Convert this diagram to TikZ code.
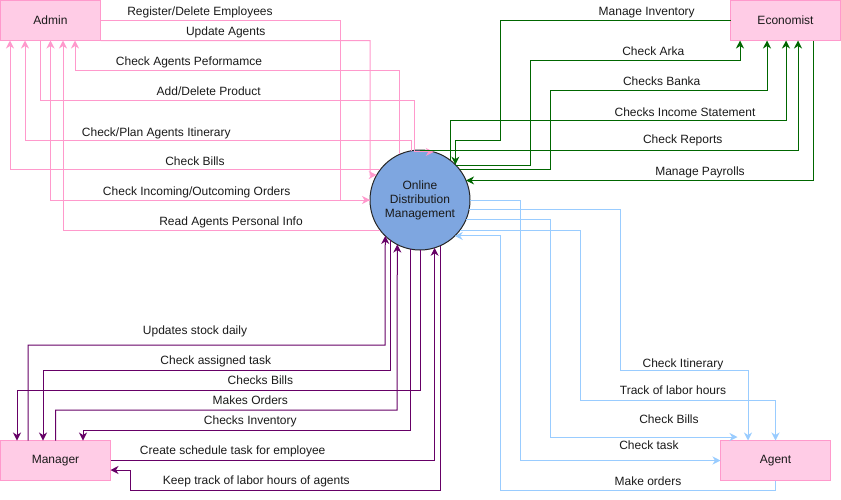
\documentclass[tikz,border=0pt]{standalone}
\usepackage{fontspec}
\setmainfont{Liberation Sans}
\usetikzlibrary{arrows.meta}

\definecolor{pinkline}{HTML}{FF99CC}
\definecolor{pinkfill}{HTML}{FFCCE6}
\definecolor{procfill}{HTML}{7EA6E0}
\definecolor{greenline}{HTML}{006600}
\definecolor{blueline}{HTML}{99CCFF}
\definecolor{purpleline}{HTML}{660066}
\definecolor{txt}{HTML}{1A1A1A}

\begin{document}
\begin{tikzpicture}[x=1pt,y=-1pt,
  every node/.style={font=\fontsize{12}{14}\selectfont, text=txt},
  entity/.style={draw=pinkline, fill=pinkfill, line width=1pt,
    minimum height=40pt, inner sep=0pt, outer sep=0pt},
  process/.style={circle, draw=black!85, fill=procfill, line width=1pt,
    minimum size=100pt, inner sep=0pt, outer sep=0pt, align=center},
  flow/.style={line width=1pt, -{Stealth[length=8pt,width=8pt,inset=2.5pt]}},
  pk/.style={flow, draw=pinkline},
  gn/.style={flow, draw=greenline},
  bl/.style={flow, draw=blueline},
  pp/.style={flow, draw=purpleline},
  lbl/.style={anchor=base, inner sep=0pt}
]
\useasboundingbox (0,0) rectangle (841,499);

% external entities and the central process
\node[entity, minimum width=100pt] (admin)   at (50.5,20.5)   {Admin};
\node[entity, minimum width=110pt] (econ)    at (785.5,20.5)  {Economist};
\node[entity, minimum width=110pt] (manager) at (55.5,460.5)  {Manager};
\node[entity, minimum width=110pt] (agent)   at (775.5,460.5) {Agent};
\node[process] (odm) at (420,200) {Online\\Distribution\\Management};

% Admin flows
\draw[pk] (admin.east) -| (340,200) -- (odm.west);
\draw[pk] (admin.south east) -| (370,175) -- (odm.150);
\draw[pk] (odm.114) |- (75,70) -- (admin.south -| 75,0);
\draw[pk] (admin.south -| 40,0) |- (414,100) |- (odm.74);
\draw[pk] (odm.100) |- (25,140) -- (admin.south -| 25,0);
\draw[pk] (odm.143) -| (admin.south -| 10,0);
\draw[pk] (odm.west) -| (admin.south);
\draw[pk] (odm.217) -| (admin.south -| 63,0);

\node[lbl] (a1) at (200,15)    {Register/Delete Employees};
\node[lbl] (a2) at (225.7,35)  {Update Agents};
\node[lbl] (a3) at (189,65)    {Check Agents Peformamce};
\node[lbl] (a4) at (208.7,95)  {Add/Delete Product};
\node[lbl] (a5) at (156.3,136) {Check/Plan Agents Itinerary};
\node[lbl] (a6) at (195,165)   {Check Bills};
\node[lbl] (a7) at (196.7,195) {Check Incoming/Outcoming Orders};
\node[lbl] (a8) at (231,225)   {Read Agents Personal Info};

% Economist flows
\draw[gn] (econ.west) -| (500,140) -| (odm.45);
\draw[gn] (odm.44) -| (530,60) -| (econ.south -| 740,0);
\draw[gn] (odm.37) -| (550,90) -| (econ.south -| 767,0);
\draw[gn] (odm.53) |- (786,120) -- (econ.south -| 786,0);
\draw[gn] (odm.north) -| (econ.south -| 798,0);
\draw[gn] (econ.south -| 813,0) |- (odm.23.6);

\node[lbl] (e1) at (646.7,15)  {Manage Inventory};
\node[lbl] (e2) at (653.3,55)  {Check Arka};
\node[lbl] (e3) at (661.7,85)  {Checks Banka};
\node[lbl] (e4) at (685,116)   {Checks Income Statement};
\node[lbl] (e5) at (682.7,143.6) {Check Reports};
\node[lbl] (e6) at (700,175)   {Manage Payrolls};

% Agent flows
\draw[bl] (odm.-11.5) -| (620,370) -| (agent.north -| 748,0);
\draw[bl] (odm.-37) -| (580,400) -| (agent.north);
\draw[bl] (odm.-23.6) -| (550,437) -- ([shift={(17,-3.5)}]agent.north west);
\draw[bl] (odm.east) -| (520,460.5) -- (agent.west);
\draw[bl] (agent.south) |- (500,490) |- (odm.-46);

\node[lbl] (g1) at (683,367)   {Check Itinerary};
\node[lbl] (g2) at (673,394.3) {Track of labor hours};
\node[lbl] (g3) at (669,423)   {Check Bills};
\node[lbl] (g4) at (649,449)   {Check task};
\node[lbl] (g5) at (648,485)   {Make orders};

% Manager flows
\draw[pp] (manager.north -| 28,0) |- (385,345) -- (odm.-134.4);
\draw[pp] (odm.-126.9) |- (43,370) -- (manager.north -| 43,0);
\draw[pp] (odm.south) |- (17,390) -- (manager.north -| 17,0);
\draw[pp] (manager.north) |- (397,410) -- (odm.-117.4);
\draw[pp] (odm.-101.5) |- (83,430) -- (manager.north -| 83,0);
\draw[pp] (manager.east) -| (odm.-73.7);
\draw[pp] (odm.-66.4) |- (130,490) |- (manager.east |- 0,470);

\node[lbl] (m1) at (195,334.3)   {Updates stock daily};
\node[lbl] (m2) at (215.8,364.3) {Check assigned task};
\node[lbl] (m3) at (260.4,384.3) {Checks Bills};
\node[lbl] (m4) at (250.3,404.3) {Makes Orders};
\node[lbl] (m5) at (250.3,424.3) {Checks Inventory};
\node[lbl] (m6) at (232.7,454.3) {Create schedule task for employee};
\node[lbl] (m7) at (256.3,484.3) {Keep track of labor hours of agents};
\end{tikzpicture}
\end{document}
